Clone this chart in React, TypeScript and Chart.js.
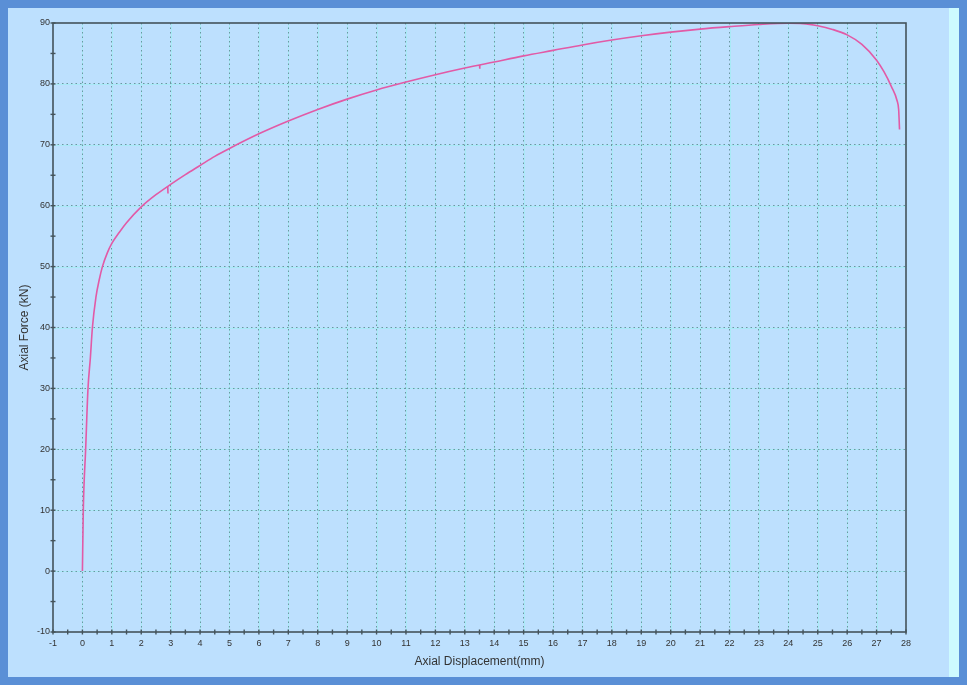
import React, { useEffect, useRef } from "react";
import { Chart, registerables } from "chart.js";

Chart.register(...registerables);

const displacement = [0, 0.03, 0.11, 0.19, 0.27, 0.34, 0.46, 0.57, 0.68, 0.85, 1.0, 1.25, 1.5, 2.0, 2.5, 3, 3.5, 4, 4.5, 5, 6, 7, 8, 9, 10, 11, 12, 13, 14, 15, 16, 17, 18, 19, 20, 21, 22, 23, 24, 24.5, 25, 25.5, 26, 26.5, 27, 27.25, 27.5, 27.7, 27.75, 27.78];
const force = [0, 10, 20, 30, 35, 40, 45, 47.8, 50, 52.3, 53.8, 55.6, 57.2, 59.8, 61.8, 63.5, 65.1, 66.6, 68.1, 69.4, 71.8, 73.9, 75.8, 77.5, 79.0, 80.3, 81.5, 82.6, 83.6, 84.6, 85.5, 86.4, 87.2, 87.9, 88.5, 89.0, 89.4, 89.75, 89.95, 89.9, 89.55, 88.95, 88.05, 86.5, 83.9, 82.0, 79.6, 77.2, 75.8, 72.5];

// small measurement glitches (downward spikes) on the curve
const glitch1X = [2.9, 2.91];
const glitch1Y = [63.2, 62.0];
const glitch2X = [13.5, 13.51];
const glitch2Y = [83.1, 82.5];

const X_MIN = -1;
const X_MAX = 28;
const Y_MIN = -10;
const Y_MAX = 90;
const X_TITLE = "Axial Displacement(mm)";
const Y_TITLE = "Axial Force (kN)";

const AXIS_COLOR = "#44535b";
const GRID_DOT = "#6a97a0";
const GRID_UNDER = "rgba(165,235,245,0.9)";
const LINE_COLOR = "#e25aa6";
const FONT = "'Liberation Sans', Arial, sans-serif";

const framePlugin = {
  id: "frame",
  beforeDraw(chart: any) {
    const { ctx, chartArea: a, scales } = chart;
    ctx.save();
    ctx.strokeStyle = GRID_UNDER;
    ctx.lineWidth = 1;
    for (let v = X_MIN + 1; v < X_MAX; v++) {
      const x = Math.round(scales.x.getPixelForValue(v)) + 0.5;
      ctx.beginPath();
      ctx.moveTo(x, a.top);
      ctx.lineTo(x, a.bottom);
      ctx.stroke();
    }
    for (let v = Y_MIN + 10; v < Y_MAX; v += 10) {
      const y = Math.round(scales.y.getPixelForValue(v)) + 0.5;
      ctx.beginPath();
      ctx.moveTo(a.left, y);
      ctx.lineTo(a.right, y);
      ctx.stroke();
    }
    ctx.restore();
  },
  afterDraw(chart: any) {
    const { ctx, chartArea: a, scales } = chart;
    ctx.save();
    ctx.setLineDash([]);
    ctx.strokeStyle = AXIS_COLOR;
    ctx.lineWidth = 1.6;
    ctx.strokeRect(a.left, a.top, a.right - a.left, a.bottom - a.top);
    ctx.lineWidth = 1.4;
    for (let v = X_MIN; v <= X_MAX; v += 0.5) {
      const x = scales.x.getPixelForValue(v);
      ctx.beginPath();
      ctx.moveTo(x, a.bottom - 2.5);
      ctx.lineTo(x, a.bottom + 2.5);
      ctx.stroke();
    }
    for (let v = Y_MIN; v <= Y_MAX; v += 5) {
      const y = scales.y.getPixelForValue(v);
      ctx.beginPath();
      ctx.moveTo(a.left - 2.5, y);
      ctx.lineTo(a.left + 2.5, y);
      ctx.stroke();
    }
    ctx.restore();
  },
};

export default function App() {
  const ref = useRef<HTMLCanvasElement | null>(null);

  useEffect(() => {
    document.body.style.margin = "0";
    if (!ref.current) return;
    const toPts = (xs: number[], ys: number[]) => xs.map((x, i) => ({ x, y: ys[i] }));
    const lineDs = (data: any[], mode: string) => ({
      data,
      showLine: true,
      borderColor: LINE_COLOR,
      borderWidth: 1.6,
      pointRadius: 0,
      cubicInterpolationMode: mode,
      tension: 0,
      fill: false,
    });
    const chart = new Chart(ref.current, {
      type: "scatter",
      data: {
        datasets: [
          lineDs(toPts(displacement, force), "monotone") as any,
          lineDs(toPts(glitch1X, glitch1Y), "default") as any,
          lineDs(toPts(glitch2X, glitch2Y), "default") as any,
        ],
      },
      options: {
        animation: false,
        responsive: false,
        devicePixelRatio: 1,
        layout: { padding: { left: 0, right: 43, top: 15, bottom: 0 } },
        plugins: { legend: { display: false }, tooltip: { enabled: false } },
        scales: {
          x: {
            type: "linear",
            min: X_MIN,
            max: X_MAX,
            afterFit: (s: any) => {
              s.height = 45;
            },
            ticks: {
              stepSize: 1,
              color: "#333",
              font: { family: FONT, size: 9 },
              padding: 6,
              maxRotation: 0,
              autoSkip: false,
            },
            grid: {
              drawTicks: false,
              color: (c: any) =>
                c.tick && (c.tick.value === X_MIN || c.tick.value === X_MAX) ? "rgba(0,0,0,0)" : GRID_DOT,
              lineWidth: 1,
            },
            border: { display: false, color: AXIS_COLOR, width: 1.6, dash: [1.5, 3] },
            title: {
              display: true,
              text: X_TITLE,
              color: "#333",
              font: { family: FONT, size: 12 },
              padding: { top: 0, bottom: 8 },
            },
          } as any,
          y: {
            type: "linear",
            min: Y_MIN,
            max: Y_MAX,
            afterFit: (s: any) => {
              s.width = 45;
            },
            ticks: {
              stepSize: 10,
              color: "#333",
              font: { family: FONT, size: 9 },
              padding: 3,
            },
            grid: {
              drawTicks: false,
              color: (c: any) =>
                c.tick && (c.tick.value === Y_MIN || c.tick.value === Y_MAX) ? "rgba(0,0,0,0)" : GRID_DOT,
              lineWidth: 1,
            },
            border: { display: false, color: AXIS_COLOR, width: 1.6, dash: [1.5, 3] },
            title: {
              display: true,
              text: Y_TITLE,
              color: "#333",
              font: { family: FONT, size: 12 },
              padding: { top: 9, bottom: 0 },
            },
          } as any,
        },
      },
      plugins: [framePlugin],
    });
    return () => chart.destroy();
  }, []);

  return (
    <div
      style={{
        position: "relative",
        width: 967,
        height: 685,
        background: "#5a8fd6",
        overflow: "hidden",
      }}
    >
      <div
        style={{
          position: "absolute",
          left: 8,
          top: 8,
          width: 941,
          height: 669,
          background: "#bde0fe",
        }}
      >
        <canvas ref={ref} width={941} height={669} style={{ display: "block" }} />
      </div>
      <div
        style={{
          position: "absolute",
          left: 949,
          top: 8,
          width: 10,
          height: 669,
          background: "#cdfbff",
        }}
      />
    </div>
  );
}
